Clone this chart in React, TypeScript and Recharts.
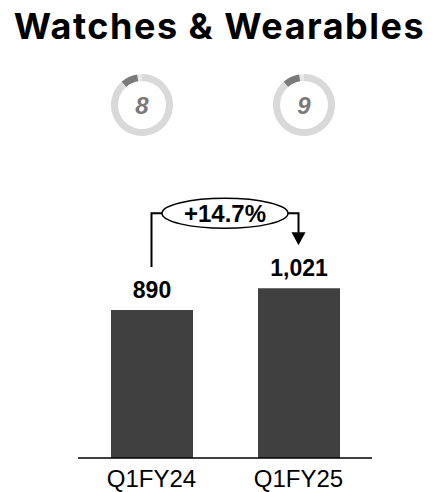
import { BarChart, Bar, XAxis, YAxis, LabelList, ReferenceLine, PieChart, Pie, Cell, Label } from "recharts"

const PERIODS = ["Q1FY24", "Q1FY25"]
const REVENUE = [890, 1021]
const GROWTH = "+14.7%"
const RANKS = [8, 9]
const RANK_RING = [2.5, 9, 88.5]
const RING_COLORS = ["#e8e8e8", "#7a7a7a", "#d9d9d9"]

const data = PERIODS.map((p, i) => ({ period: p, revenue: REVENUE[i] }))
const ringData = RANK_RING.map((v, i) => ({ name: `s${i}`, value: v }))

const ARIAL = "'Liberation Sans', Arial, sans-serif"
const TITLE_FONT = "Inter, 'Liberation Sans', Arial, sans-serif"

function GrowthBracket(props: any) {
    const { x1, y1, x2, y2 } = props
    const lift = 43
    const level = Math.min(y1, y2) - 75
    const mid = (x1 + x2) / 2
    const tip = y2 - lift
    return (
        <g>
            <polyline
                points={`${x1},${y1 - lift} ${x1},${level} ${x2},${level} ${x2},${tip - 12}`}
                fill="none"
                stroke="#000"
                strokeWidth={2}
            />
            <polygon points={`${x2 - 7},${tip - 13} ${x2 + 7},${tip - 13} ${x2},${tip}`} fill="#000" />
            <ellipse cx={mid} cy={level} rx={63} ry={15} fill="#fff" stroke="#000" strokeWidth={1.5} />
            <text
                x={mid}
                y={level}
                dy="0.36em"
                textAnchor="middle"
                fontFamily={ARIAL}
                fontWeight="bold"
                fontSize={24}
                fill="#000"
            >
                {GROWTH}
            </text>
        </g>
    )
}

function RankRing({ rank, left }: { rank: number; left: number }) {
    return (
        <div style={{ position: "absolute", left, top: 70, width: 70, height: 70 }}>
            <PieChart width={70} height={70} margin={{ top: 0, right: 0, bottom: 0, left: 0 }}>
                <Pie
                    data={ringData}
                    dataKey="value"
                    cx={35}
                    cy={35}
                    innerRadius={24}
                    outerRadius={31}
                    startAngle={90}
                    endAngle={450}
                    stroke="none"
                    isAnimationActive={false}
                >
                    {ringData.map((d, i) => (
                        <Cell key={d.name} fill={RING_COLORS[i]} />
                    ))}
                    <Label
                        value={String(rank)}
                        position="center"
                        fill="#7a7a7a"
                        fontSize={24}
                        fontWeight="bold"
                        fontStyle="italic"
                        fontFamily={ARIAL}
                    />
                </Pie>
            </PieChart>
        </div>
    )
}

export default function App() {
    return (
        <div style={{ position: "absolute", left: 0, top: 0, width: 439, height: 492, background: "#fff" }}>
            <div
                style={{
                    position: "absolute",
                    left: 0,
                    top: 4,
                    width: 439,
                    textAlign: "center",
                    fontFamily: TITLE_FONT,
                    fontWeight: "bold",
                    fontSize: 36,
                    letterSpacing: 1.5,
                    lineHeight: "44px",
                    color: "#000",
                }}
            >
                Watches &amp; Wearables
            </div>

            <RankRing rank={RANKS[0]} left={107} />
            <RankRing rank={RANKS[1]} left={269} />

            <div style={{ position: "absolute", left: 0, top: 0 }}>
                <BarChart
                    width={439}
                    height={492}
                    data={data}
                    margin={{ top: 192, right: 67, bottom: 0, left: 78 }}
                >
                    <XAxis
                        dataKey="period"
                        height={34}
                        tickLine={false}
                        axisLine={{ stroke: "#000", strokeWidth: 1.5 }}
                        tickMargin={6}
                        tick={{ fontSize: 24, fill: "#000", fontFamily: ARIAL }}
                    />
                    <YAxis hide domain={[0, 1600]} />
                    <Bar dataKey="revenue" fill="#404040" barSize={82} isAnimationActive={false}>
                        <LabelList
                            dataKey="revenue"
                            position="top"
                            offset={12}
                            formatter={(v: any) => Number(v).toLocaleString("en-US")}
                            style={{ fontSize: 23, fontWeight: "bold", fill: "#000", fontFamily: ARIAL }}
                        />
                    </Bar>
                    <ReferenceLine
                        segment={[
                            { x: PERIODS[0], y: REVENUE[0] },
                            { x: PERIODS[1], y: REVENUE[1] },
                        ]}
                        shape={GrowthBracket}
                    />
                </BarChart>
            </div>
        </div>
    )
}
